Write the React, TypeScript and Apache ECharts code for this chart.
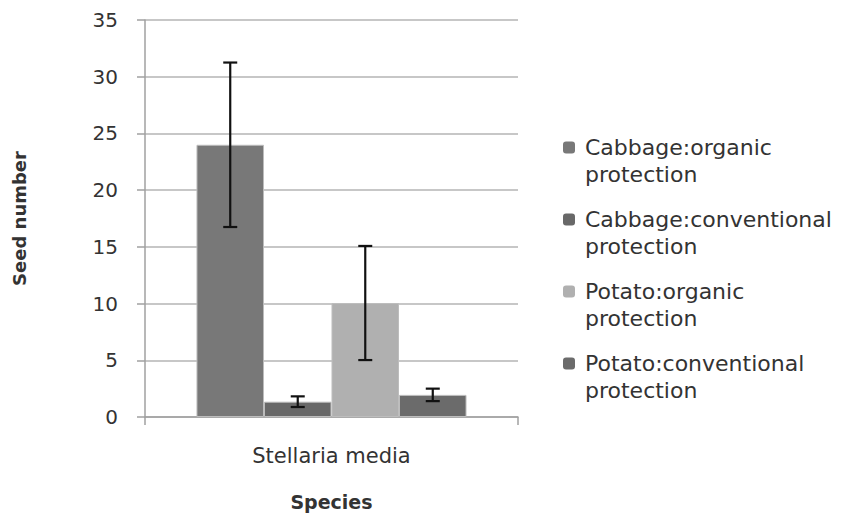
import React, { useEffect, useRef } from "react";
import * as echarts from "echarts";

const categories = ["Stellaria media"];
const seriesNames = [
  "Cabbage:organic protection",
  "Cabbage:conventional protection",
  "Potato:organic protection",
  "Potato:conventional protection",
];
const means = [24.0, 1.35, 10.05, 1.95];
const errors = [7.25, 0.47, 5.03, 0.55];
const colors = ["#787878", "#686868", "#b0b0b0", "#6b6b6b"];

const GAP = 0.276;
const FONT = "DejaVu Sans";
const TEXT = "#333333";

export default function App() {
  const ref = useRef<HTMLDivElement>(null);
  useEffect(() => {
    if (!ref.current) return;
    const chart = echarts.init(ref.current, undefined, { renderer: "svg" });
    const barSeries = seriesNames.map((name, i) => ({
      name,
      type: "bar",
      data: [means[i]],
      barGap: "0%",
      barCategoryGap: GAP * 100 + "%",
      itemStyle: { color: colors[i], borderColor: "#bdbdbd", borderWidth: 1 },
      z: 2,
    }));
    const errData = means.map((m, i) => [0, m, errors[i], i]);
    chart.setOption({
      animation: false,
      backgroundColor: "#ffffff",
      grid: { left: 145, right: 324, top: 20, bottom: 99 },
      legend: {
        orient: "vertical",
        left: 563,
        top: 107,
        padding: 0,
        itemGap: -9,
        itemWidth: 12,
        itemHeight: 12,
        data: seriesNames.map((n, i) => ({ name: n, itemStyle: { color: colors[i], borderWidth: 0 } })),
        formatter: (name: string) => "\n" + name.replace(" ", "\n"),
        textStyle: {
          fontFamily: FONT,
          fontSize: 22,
          color: TEXT,
          lineHeight: 27,
          padding: [0, 0, 0, 5],
        },
        selectedMode: false,
      },
      xAxis: {
        type: "category",
        data: categories,
        boundaryGap: true,
        name: "Species",
        nameLocation: "middle",
        nameGap: 75,
        nameTextStyle: { fontFamily: FONT, fontSize: 19, fontWeight: "bold", color: TEXT },
        axisLine: { lineStyle: { color: "#a0a0a0", width: 1.5 } },
        axisTick: { show: true, length: 8, lineStyle: { color: "#a0a0a0", width: 1.5 } },
        axisLabel: { fontFamily: FONT, fontSize: 21, color: TEXT, margin: 28 },
      },
      yAxis: {
        type: "value",
        min: 0,
        max: 35,
        interval: 5,
        name: "Seed number",
        nameLocation: "middle",
        nameGap: 117,
        nameRotate: 90,
        nameTextStyle: { fontFamily: FONT, fontSize: 18, fontWeight: "bold", color: TEXT },
        axisLine: { show: true, lineStyle: { color: "#a0a0a0", width: 1.5 } },
        axisTick: { show: true, length: 8, lineStyle: { color: "#a0a0a0", width: 1.5 } },
        axisLabel: { fontFamily: FONT, fontSize: 20, color: TEXT, margin: 27 },
        splitLine: { lineStyle: { color: "#b4b4b4", width: 1.5 } },
      },
      series: [
        ...barSeries,
        {
          type: "custom",
          name: "errors",
          data: errData,
          encode: { x: 0, y: 1 },
          z: 5,
          renderItem: (params: any, api: any) => {
            const cat = api.value(0);
            const m = api.value(1);
            const e = api.value(2);
            const bi = api.value(3);
            const center = api.coord([cat, 0]);
            const band = api.size([1, 0])[0];
            const total = band * (1 - GAP);
            const bw = total / seriesNames.length;
            const x = center[0] - total / 2 + (bi + 0.5) * bw;
            const yTop = api.coord([cat, m + e])[1];
            const yBot = api.coord([cat, m - e])[1];
            const hw = 7;
            const style = { stroke: "#111111", lineWidth: 2.2 };
            return {
              type: "group",
              children: [
                { type: "line", shape: { x1: x, y1: yTop, x2: x, y2: yBot }, style },
                { type: "line", shape: { x1: x - hw, y1: yTop, x2: x + hw, y2: yTop }, style },
                { type: "line", shape: { x1: x - hw, y1: yBot, x2: x + hw, y2: yBot }, style },
              ],
            };
          },
        },
      ],
    });
    return () => chart.dispose();
  }, []);
  return (
    <div
      ref={ref}
      style={{ position: "fixed", left: 0, top: 0, width: 842, height: 516 }}
    />
  );
}
